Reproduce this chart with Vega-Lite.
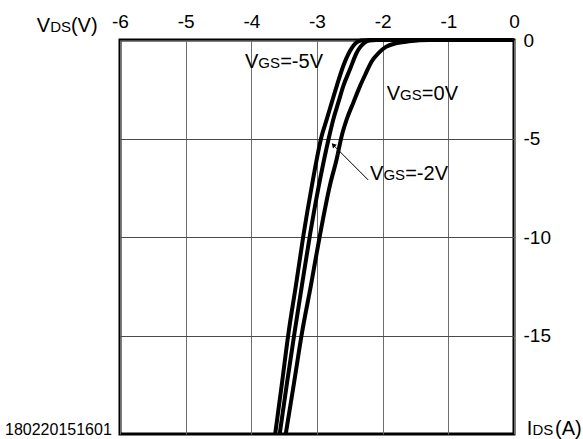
{
  "$schema": "https://vega.github.io/schema/vega-lite/v6.json",
  "width": 394,
  "height": 394,
  "autosize": {"type": "none"},
  "padding": {"left": 120, "top": 40, "right": 69, "bottom": 5},
  "background": "white",
  "config": {
    "font": "Liberation Sans",
    "view": {"stroke": "black", "strokeWidth": 3},
    "axis": {"labelColor": "black", "labelFont": "Liberation Sans"}
  },
  "datasets": {
    "curves": [
      {"vgs": "-5V", "vds": 0, "ids": 0},
      {"vgs": "-5V", "vds": -2.2, "ids": 0},
      {"vgs": "-5V", "vds": -2.33, "ids": -0.03},
      {"vgs": "-5V", "vds": -2.396, "ids": -0.12},
      {"vgs": "-5V", "vds": -2.498, "ids": -0.56},
      {"vgs": "-5V", "vds": -2.6, "ids": -1.32},
      {"vgs": "-5V", "vds": -2.7, "ids": -2.34},
      {"vgs": "-5V", "vds": -2.776, "ids": -3.18},
      {"vgs": "-5V", "vds": -2.852, "ids": -4.03},
      {"vgs": "-5V", "vds": -2.929, "ids": -4.87},
      {"vgs": "-5V", "vds": -3.076, "ids": -7.36},
      {"vgs": "-5V", "vds": -3.206, "ids": -9.9},
      {"vgs": "-5V", "vds": -3.32, "ids": -12.44},
      {"vgs": "-5V", "vds": -3.434, "ids": -14.87},
      {"vgs": "-5V", "vds": -3.533, "ids": -17.41},
      {"vgs": "-5V", "vds": -3.637, "ids": -20},
      {"vgs": "-2V", "vds": 0, "ids": 0},
      {"vgs": "-2V", "vds": -2.1, "ids": 0},
      {"vgs": "-2V", "vds": -2.2, "ids": -0.03},
      {"vgs": "-2V", "vds": -2.269, "ids": -0.12},
      {"vgs": "-2V", "vds": -2.396, "ids": -0.645},
      {"vgs": "-2V", "vds": -2.498, "ids": -1.49},
      {"vgs": "-2V", "vds": -2.6, "ids": -2.34},
      {"vgs": "-2V", "vds": -2.676, "ids": -3.18},
      {"vgs": "-2V", "vds": -2.752, "ids": -4.03},
      {"vgs": "-2V", "vds": -2.813, "ids": -4.87},
      {"vgs": "-2V", "vds": -2.97, "ids": -7.36},
      {"vgs": "-2V", "vds": -3.107, "ids": -9.9},
      {"vgs": "-2V", "vds": -3.229, "ids": -12.44},
      {"vgs": "-2V", "vds": -3.343, "ids": -14.87},
      {"vgs": "-2V", "vds": -3.457, "ids": -17.41},
      {"vgs": "-2V", "vds": -3.568, "ids": -20},
      {"vgs": "0V", "vds": 0, "ids": 0},
      {"vgs": "0V", "vds": -1.3, "ids": 0},
      {"vgs": "0V", "vds": -1.6, "ids": -0.07},
      {"vgs": "0V", "vds": -1.8, "ids": -0.17},
      {"vgs": "0V", "vds": -1.95, "ids": -0.35},
      {"vgs": "0V", "vds": -2.06, "ids": -0.65},
      {"vgs": "0V", "vds": -2.17, "ids": -1.1},
      {"vgs": "0V", "vds": -2.26, "ids": -1.72},
      {"vgs": "0V", "vds": -2.345, "ids": -2.34},
      {"vgs": "0V", "vds": -2.447, "ids": -3.18},
      {"vgs": "0V", "vds": -2.548, "ids": -4.03},
      {"vgs": "0V", "vds": -2.624, "ids": -4.87},
      {"vgs": "0V", "vds": -2.7, "ids": -6.04},
      {"vgs": "0V", "vds": -2.802, "ids": -7.36},
      {"vgs": "0V", "vds": -2.955, "ids": -9.9},
      {"vgs": "0V", "vds": -3.092, "ids": -12.44},
      {"vgs": "0V", "vds": -3.229, "ids": -14.87},
      {"vgs": "0V", "vds": -3.35, "ids": -17.41},
      {"vgs": "0V", "vds": -3.476, "ids": -20}
    ],
    "arrow": [
      {"vds": -2.219, "ids": -7.107, "vds2": -2.752, "ids2": -5.33}
    ],
    "vgsLabels": [
      {"vds": -4.097, "ids": -1.437, "p1": "V", "p2": "GS", "p3": "=-5V"},
      {"vds": -1.939, "ids": -3.05, "p1": "V", "p2": "GS", "p3": "=0V"},
      {"vds": -2.193, "ids": -7.107, "p1": "V", "p2": "GS", "p3": "=-2V"}
    ],
    "vdsTitle": [
      {"vds": -7.268, "ids": 0.421, "p1": "V", "p2": "DS", "p3": " (V)"}
    ],
    "idsTitle": [
      {"vds": 0.193, "ids": -20.05, "p1": "I", "p2": "DS", "p3": "(A)"}
    ],
    "code": [
      {"vds": -7.751, "ids": -20.05, "p": "180220151601"}
    ]
  },
  "layer": [
    {
      "data": {"name": "curves"},
      "mark": {"type": "line", "color": "black", "strokeWidth": 4, "interpolate": "monotone", "clip": false},
      "encoding": {
        "x": {
          "field": "vds", "type": "quantitative", "title": null,
          "scale": {"domain": [-6, 0], "nice": false, "zero": false},
          "axis": {
            "orient": "top", "values": [-6, -5, -4, -3, -2, -1, 0], "format": "d",
            "labelExpr": "replace(datum.label, '\u2212', '-')",
            "ticks": false, "domain": false, "labelFontSize": 19, "labelPadding": 13,
            "labelBaseline": "alphabetic", "labelFlush": false, "labelOverlap": false,
            "grid": true, "gridColor": "#6e6e6e", "gridWidth": 1, "gridOpacity": 1
          }
        },
        "y": {
          "field": "ids", "type": "quantitative", "title": null,
          "scale": {"domain": [-20, 0], "nice": false, "zero": false},
          "axis": {
            "orient": "right", "values": [0, -5, -10, -15], "format": "d",
            "labelExpr": "replace(datum.label, '\u2212', '-')",
            "ticks": false, "domain": false, "labelFontSize": 19, "labelPadding": 9,
            "labelBaseline": "middle", "labelFlush": false, "labelOverlap": false,
            "grid": true, "gridColor": "#4a4a4a", "gridWidth": 1, "gridOpacity": 1
          }
        },
        "detail": {"field": "vgs", "type": "nominal"}
      }
    },
    {
      "data": {"name": "arrow"},
      "mark": {"type": "rule", "color": "black", "strokeWidth": 1},
      "encoding": {
        "x": {"field": "vds", "type": "quantitative", "title": null},
        "y": {"field": "ids", "type": "quantitative", "title": null},
        "x2": {"field": "vds2"},
        "y2": {"field": "ids2"}
      }
    },
    {
      "data": {"name": "arrow"},
      "mark": {"type": "point", "shape": "triangle-up", "filled": true, "color": "black", "opacity": 1, "size": 28, "angle": -44},
      "encoding": {
        "x": {"field": "vds2", "type": "quantitative", "title": null},
        "y": {"field": "ids2", "type": "quantitative", "title": null}
      }
    },
    {
      "data": {"name": "vgsLabels"},
      "mark": {"type": "text", "align": "left", "baseline": "alphabetic", "fontSize": 20, "color": "black"},
      "encoding": {
        "x": {"field": "vds", "type": "quantitative", "title": null},
        "y": {"field": "ids", "type": "quantitative", "title": null},
        "text": {"field": "p1"}
      }
    },
    {
      "data": {"name": "vgsLabels"},
      "mark": {"type": "text", "align": "left", "baseline": "alphabetic", "fontSize": 15, "dx": 13.4, "color": "black"},
      "encoding": {
        "x": {"field": "vds", "type": "quantitative", "title": null},
        "y": {"field": "ids", "type": "quantitative", "title": null},
        "text": {"field": "p2"}
      }
    },
    {
      "data": {"name": "vgsLabels"},
      "mark": {"type": "text", "align": "left", "baseline": "alphabetic", "fontSize": 20, "dx": 35.2, "color": "black"},
      "encoding": {
        "x": {"field": "vds", "type": "quantitative", "title": null},
        "y": {"field": "ids", "type": "quantitative", "title": null},
        "text": {"field": "p3"}
      }
    },
    {
      "data": {"name": "vdsTitle"},
      "mark": {"type": "text", "align": "left", "baseline": "alphabetic", "fontSize": 20, "color": "black"},
      "encoding": {
        "x": {"field": "vds", "type": "quantitative", "title": null},
        "y": {"field": "ids", "type": "quantitative", "title": null},
        "text": {"field": "p1"}
      }
    },
    {
      "data": {"name": "vdsTitle"},
      "mark": {"type": "text", "align": "left", "baseline": "alphabetic", "fontSize": 15, "dx": 13.4, "color": "black"},
      "encoding": {
        "x": {"field": "vds", "type": "quantitative", "title": null},
        "y": {"field": "ids", "type": "quantitative", "title": null},
        "text": {"field": "p2"}
      }
    },
    {
      "data": {"name": "vdsTitle"},
      "mark": {"type": "text", "align": "left", "baseline": "alphabetic", "fontSize": 20, "dx": 34.2, "color": "black"},
      "encoding": {
        "x": {"field": "vds", "type": "quantitative", "title": null},
        "y": {"field": "ids", "type": "quantitative", "title": null},
        "text": {"field": "p3"}
      }
    },
    {
      "data": {"name": "idsTitle"},
      "mark": {"type": "text", "align": "left", "baseline": "alphabetic", "fontSize": 20, "color": "black"},
      "encoding": {
        "x": {"field": "vds", "type": "quantitative", "title": null},
        "y": {"field": "ids", "type": "quantitative", "title": null},
        "text": {"field": "p1"}
      }
    },
    {
      "data": {"name": "idsTitle"},
      "mark": {"type": "text", "align": "left", "baseline": "alphabetic", "fontSize": 15, "dx": 5.8, "color": "black"},
      "encoding": {
        "x": {"field": "vds", "type": "quantitative", "title": null},
        "y": {"field": "ids", "type": "quantitative", "title": null},
        "text": {"field": "p2"}
      }
    },
    {
      "data": {"name": "idsTitle"},
      "mark": {"type": "text", "align": "left", "baseline": "alphabetic", "fontSize": 20, "dx": 28.3, "color": "black"},
      "encoding": {
        "x": {"field": "vds", "type": "quantitative", "title": null},
        "y": {"field": "ids", "type": "quantitative", "title": null},
        "text": {"field": "p3"}
      }
    },
    {
      "data": {"name": "code"},
      "mark": {"type": "text", "align": "left", "baseline": "alphabetic", "fontSize": 16, "color": "black"},
      "encoding": {
        "x": {"field": "vds", "type": "quantitative", "title": null},
        "y": {"field": "ids", "type": "quantitative", "title": null},
        "text": {"field": "p"}
      }
    }
  ]
}
